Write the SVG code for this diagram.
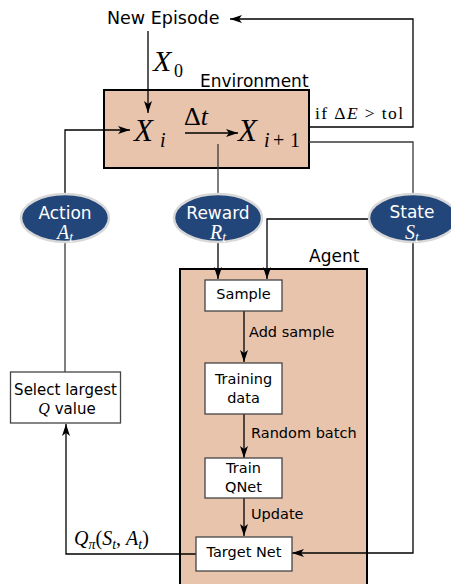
<svg xmlns="http://www.w3.org/2000/svg" width="451" height="584" viewBox="0 0 451 584">
<style>
.lbl{font-family:"DejaVu Sans",sans-serif;fill:#000}
.box{fill:#fff;stroke:#444;stroke-width:1.3}
.big{fill:#e8c4ad;stroke:#000;stroke-width:2}
.ell{fill:#224679;stroke:#d8d8d8;stroke-width:2.5}
.et{font-family:"DejaVu Sans",sans-serif;fill:#fff;font-size:17px;text-anchor:middle}
.em{font-family:"Liberation Serif",serif;fill:#fff;font-style:italic;text-anchor:middle}
.m{font-family:"Liberation Serif",serif;fill:#000}
.c{fill:none;stroke:#3a3a3a;stroke-width:1.3}
.a{fill:none;stroke:#000;stroke-width:1.3;marker-end:url(#ah)}
</style>
<defs>
<marker id="ah" viewBox="0 0 12 8" refX="12" refY="4" markerWidth="12" markerHeight="8" orient="auto" markerUnits="userSpaceOnUse">
<path d="M0,0 L12,4 L0,8 L3,4 z" fill="#000"/>
</marker>
</defs>

<g id="agent">
<rect class="big" x="180" y="269" width="187" height="320"/>
<text class="lbl" x="309" y="262" font-size="17">Agent</text>
</g>

<g id="environment">
<rect class="big" x="104" y="90" width="205" height="78"/>
<text class="lbl" x="200" y="87" font-size="17">Environment</text>
<text class="m" x="134" y="141" font-size="31" font-style="italic">X</text>
<text class="m" x="160" y="147" font-size="20" font-style="italic">i</text>
<text class="m" x="184" y="125" font-size="26">Δ<tspan font-style="italic">t</tspan></text>
<text class="m" x="238" y="141" font-size="31" font-style="italic">X</text>
<text class="m" x="264" y="147" font-size="20" font-style="italic">i</text>
<text class="m" x="273" y="147" font-size="20">+</text>
<text class="m" x="290" y="147" font-size="20">1</text>
</g>

<g id="new-episode">
<text class="lbl" x="107" y="24" font-size="17.5">New Episode</text>
</g>

<g id="connectors">
<polyline class="a" points="309,127 413,127 413,19 230,19"/>
<polyline class="c" points="309,142 413,142 413,195"/>
<line class="a" x1="148" y1="31" x2="148" y2="113"/>
<polyline class="a" points="65,195 65,130 130,130"/>
<line class="c" x1="65" y1="242" x2="65" y2="372"/>
<line class="a" x1="185" y1="133" x2="238" y2="133"/>
<line class="c" x1="218" y1="144" x2="218" y2="194"/>
<line class="a" x1="218" y1="242" x2="218" y2="279"/>
<polyline class="a" points="369,219 267,219 267,279"/>
<polyline class="a" points="413,243 413,553 292,553"/>
<line class="a" x1="244" y1="311" x2="244" y2="362"/>
<line class="a" x1="244" y1="414" x2="244" y2="458"/>
<line class="a" x1="244" y1="498" x2="244" y2="536"/>
<polyline class="a" points="196,554 66,554 66,424"/>
<text class="m" x="153" y="71" font-size="30" font-style="italic">X</text>
<text class="m" x="174" y="77" font-size="18">0</text>
<text class="m" x="315" y="119" font-size="17.5" textLength="88" lengthAdjust="spacing">if Δ<tspan font-style="italic">E</tspan> &gt; tol</text>
<text class="lbl" x="249" y="337" font-size="14.5">Add sample</text>
<text class="lbl" x="251" y="438" font-size="14.5">Random batch</text>
<text class="lbl" x="251" y="519" font-size="14.5">Update</text>
<text class="m" x="74" y="545" font-size="20"><tspan font-style="italic">Q</tspan><tspan font-size="14" font-style="italic" dy="4">π</tspan><tspan dy="-4">(</tspan><tspan font-style="italic">S</tspan><tspan font-size="14" font-style="italic" dy="4">t</tspan><tspan dy="-4">, </tspan><tspan font-style="italic">A</tspan><tspan font-size="14" font-style="italic" dy="4">t</tspan><tspan dy="-4">)</tspan></text>
</g>

<g id="action">
<ellipse class="ell" cx="65" cy="218" rx="44" ry="24"/>
<text class="et" x="65" y="219">Action</text>
<text class="em" x="65" y="239" font-size="20">A<tspan font-size="14" dy="3">t</tspan></text>
</g>

<g id="reward">
<ellipse class="ell" cx="218" cy="218" rx="44" ry="24"/>
<text class="et" x="218" y="219">Reward</text>
<text class="em" x="218" y="239" font-size="20">R<tspan font-size="14" dy="3">t</tspan></text>
</g>

<g id="state">
<ellipse class="ell" cx="413" cy="218" rx="44" ry="24"/>
<text class="et" x="412" y="218" font-size="18.5">State</text>
<text class="em" x="412" y="239" font-size="20">S<tspan font-size="14" dy="3">t</tspan></text>
</g>

<g id="sample">
<rect class="box" x="205" y="280" width="77" height="31"/>
<text class="lbl" x="243.5" y="299" font-size="14.5" text-anchor="middle">Sample</text>
</g>

<g id="training-data">
<rect class="box" x="205" y="363" width="77" height="51"/>
<text class="lbl" x="243.5" y="384" font-size="14.5" text-anchor="middle">Training</text>
<text class="lbl" x="243.5" y="403" font-size="14.5" text-anchor="middle">data</text>
</g>

<g id="train-qnet">
<rect class="box" x="205" y="458" width="77" height="40"/>
<text class="lbl" x="243.5" y="473" font-size="14.5" text-anchor="middle">Train</text>
<text class="lbl" x="243.5" y="492" font-size="14.5" text-anchor="middle">QNet</text>
</g>

<g id="target-net">
<rect class="box" x="196" y="537" width="96" height="34"/>
<text class="lbl" x="244" y="557" font-size="14.5" text-anchor="middle">Target Net</text>
</g>

<g id="select">
<rect class="box" x="10.5" y="372" width="110" height="51"/>
<text class="lbl" x="65.5" y="395" font-size="15" text-anchor="middle">Select largest</text>
<text class="lbl" x="67" y="414" font-size="15" text-anchor="middle"><tspan font-family="Liberation Serif,serif" font-style="italic" font-size="16">Q</tspan>  value</text>
</g>
</svg>
